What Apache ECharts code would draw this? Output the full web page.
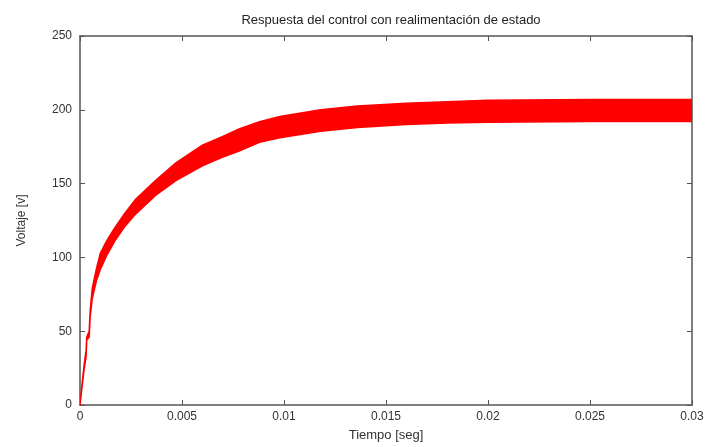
<!DOCTYPE html>
<html>
<head>
<meta charset="utf-8">
<script src="https://cdn.jsdelivr.net/npm/echarts@6/dist/echarts.min.js"></script>
<style>
  html, body { margin: 0; padding: 0; background: #fff; }
  #chart { width: 707px; height: 447px; }
</style>
</head>
<body>
<div id="chart"></div>
<script>
// envelope of the ripple (time in s, voltage in V)
const tiempo = [0, 0.0001, 0.0002, 0.0003, 0.00033, 0.00045, 0.0005, 0.0006, 0.0008, 0.001,
  0.0013, 0.0017, 0.0022, 0.0027, 0.0037, 0.0047, 0.006, 0.007, 0.0078, 0.0088,
  0.0098, 0.0118, 0.0136, 0.016, 0.018, 0.02, 0.025, 0.03];
const voltajeMin = [0, 12, 24, 33, 44, 46, 60, 72, 84, 92,
  101, 111, 121, 129, 142, 152, 162, 168, 172, 178,
  181, 185.5, 188, 190, 191, 191.5, 192, 192];
const voltajeMax = [0, 14, 27, 37, 46, 50, 64, 79, 92, 103,
  111, 120, 130, 139, 152, 164, 176, 182, 187, 192,
  195.5, 200, 202.5, 204.5, 205.5, 206.5, 207, 207];
const xTicks = [0, 0.005, 0.01, 0.015, 0.02, 0.025, 0.03];

const RED = "#ff0000";
const AXIS = "#555";
const FONT = "Liberation Sans";

const chart = echarts.init(document.getElementById("chart"));

const bandData = tiempo.map((t, i) => [t, voltajeMin[i], voltajeMax[i]]);

// one polygon: upper envelope forward, lower envelope back
function renderBand(params, api) {
  if (params.dataIndex !== 0) return;
  const pts = [];
  for (let i = 0; i < tiempo.length; i++) pts.push(api.coord([tiempo[i], voltajeMax[i]]));
  for (let i = tiempo.length - 1; i >= 0; i--) pts.push(api.coord([tiempo[i], voltajeMin[i]]));
  return {
    type: "polygon",
    shape: { points: pts },
    style: { fill: RED, stroke: RED, lineWidth: 1.5, lineJoin: "round" },
  };
}

const axisBase = {
  axisLine: { show: true, onZero: false, lineStyle: { color: AXIS, width: 1.5 } },
  axisTick: { show: true, inside: true, length: 5, lineStyle: { color: AXIS } },
  splitLine: { show: false },
};

chart.setOption({
  animation: false,
  title: {
    text: "Respuesta del control con realimentación de estado",
    left: 386, top: 9, textAlign: "center",
    textStyle: { fontFamily: FONT, fontSize: 13, fontWeight: "normal", color: "#222" },
  },
  grid: { left: 80, right: 15, top: 36, bottom: 39 },
  xAxis: [
    {
      ...axisBase,
      type: "value", min: 0, max: 0.03, interval: 0.005, position: "bottom",
      name: "Tiempo [seg]", nameLocation: "middle", nameGap: 24,
      nameTextStyle: { fontFamily: FONT, fontSize: 13, color: "#333" },
      axisLabel: {
        fontFamily: FONT, fontSize: 12, color: "#333", margin: 6,
        formatter: (v) => (xTicks.includes(+v.toFixed(3)) ? String(+v.toFixed(3)) : ""),
      },
    },
    { ...axisBase, type: "value", min: 0, max: 0.03, interval: 0.005, position: "top", axisLabel: { show: false } },
  ],
  yAxis: [
    {
      ...axisBase,
      type: "value", min: 0, max: 250, interval: 50, position: "left",
      name: "Voltaje [v]", nameLocation: "middle", nameGap: 52,
      nameTextStyle: { fontFamily: FONT, fontSize: 12, color: "#333" },
      axisLabel: { fontFamily: FONT, fontSize: 12, color: "#333", margin: 8 },
    },
    { ...axisBase, type: "value", min: 0, max: 250, interval: 50, position: "right", axisLabel: { show: false } },
  ],
  series: [
    {
      type: "custom",
      data: bandData,
      encode: { x: 0, y: [1, 2] },
      renderItem: renderBand,
      clip: true,
    },
  ],
});
</script>
</body>
</html>
